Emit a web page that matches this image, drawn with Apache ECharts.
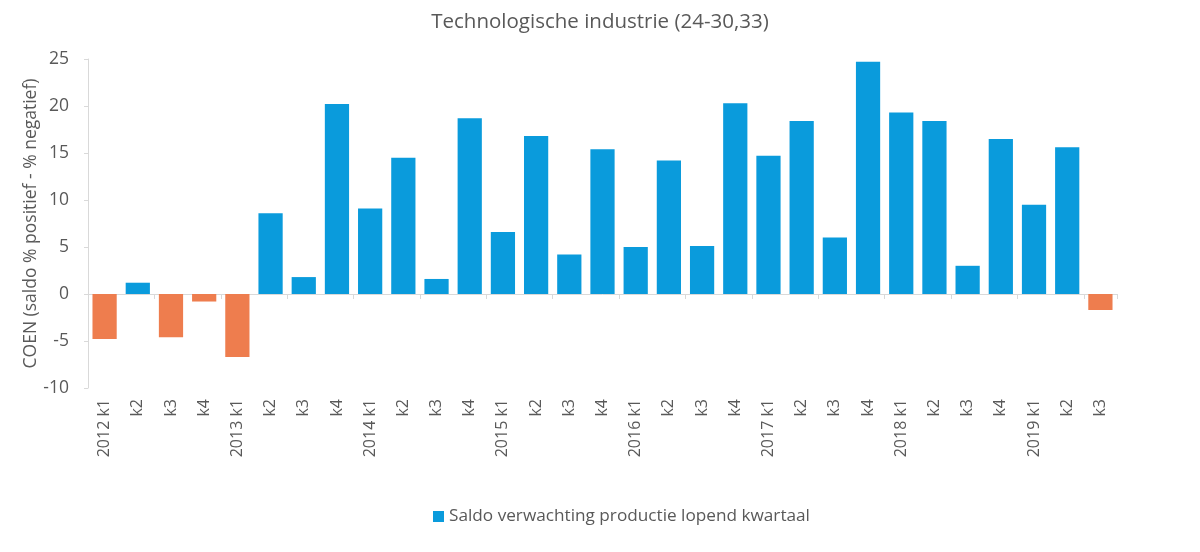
<!DOCTYPE html>
<html>
<head>
<meta charset="utf-8">
<script src="https://cdn.jsdelivr.net/npm/echarts@6/dist/echarts.min.js"></script>
<style>
html,body{margin:0;padding:0;background:#fff;}
#chart{width:1200px;height:552px;}
</style>
</head>
<body>
<div id="chart"></div>
<script>
const categories = [
  '2012 k1','k2','k3','k4',
  '2013 k1','k2','k3','k4',
  '2014 k1','k2','k3','k4',
  '2015 k1','k2','k3','k4',
  '2016 k1','k2','k3','k4',
  '2017 k1','k2','k3','k4',
  '2018 k1','k2','k3','k4',
  '2019 k1','k2','k3'
];
const saldo = [
  -4.8, 1.2, -4.6, -0.8,
  -6.7, 8.6, 1.8, 20.2,
  9.1, 14.5, 1.6, 18.7,
  6.6, 16.8, 4.2, 15.4,
  5.0, 14.2, 5.1, 20.3,
  14.7, 18.4, 6.0, 24.7,
  19.3, 18.4, 3.0, 16.5,
  9.5, 15.6, -1.7
];
const seriesName = 'Saldo verwachting productie lopend kwartaal';
const titleText = 'Technologische industrie (24-30,33)';
const yAxisName = 'COEN (saldo % positief - % negatief)';

const BLUE = '#0A9BDC';
const ORANGE = '#EE7D4E';
const TEXT = '#595959';
const LINE = '#D9D9D9';
const FONT = '"Open Sans", Lato, sans-serif';

const chart = echarts.init(document.getElementById('chart'));
chart.setOption({
  backgroundColor: '#fff',
  animation: false,
  textStyle: { fontFamily: FONT },
  title: {
    text: titleText,
    left: 'center',
    top: 7,
    textStyle: { fontFamily: FONT, fontSize: 20.5, fontWeight: 'normal', color: TEXT }
  },
  legend: {
    bottom: 22,
    left: 428,
    itemWidth: 11,
    itemHeight: 11,
    icon: 'rect',
    itemGap: 6,
    textStyle: { fontFamily: FONT, fontSize: 17.2, color: TEXT },
    data: [seriesName]
  },
  grid: { left: 88, right: 83, top: 59, bottom: 164, containLabel: false },
  xAxis: [
    {
      type: 'category',
      data: categories,
      axisLine: { onZero: true, lineStyle: { color: LINE, width: 1 } },
      axisTick: { show: true, length: 5, lineStyle: { color: LINE } },
      axisLabel: { show: false }
    },
    {
      type: 'category',
      data: categories,
      position: 'bottom',
      axisLine: { show: false, onZero: false },
      axisTick: { show: false },
      axisLabel: {
        rotate: 90,
        margin: 11,
        interval: 0,
        fontFamily: FONT,
        fontSize: 16,
        color: TEXT
      }
    }
  ],
  yAxis: {
    type: 'value',
    min: -10,
    max: 25,
    interval: 5,
    name: yAxisName,
    nameLocation: 'middle',
    nameGap: 48,
    nameMoveOverlap: false,
    nameTextStyle: { fontFamily: FONT, fontSize: 17.5, color: TEXT },
    axisLine: { show: true, lineStyle: { color: LINE } },
    axisTick: { show: true, length: 4, lineStyle: { color: LINE } },
    splitLine: { show: false },
    axisLabel: { fontFamily: FONT, fontSize: 17.5, color: TEXT, margin: 19 }
  },
  series: [
    {
      name: seriesName,
      type: 'bar',
      xAxisIndex: 0,
      barCategoryGap: '27%',
      itemStyle: { color: BLUE },
      data: saldo.map(v => v < 0 ? { value: v, itemStyle: { color: ORANGE } } : v)
    }
  ]
});
</script>
</body>
</html>
